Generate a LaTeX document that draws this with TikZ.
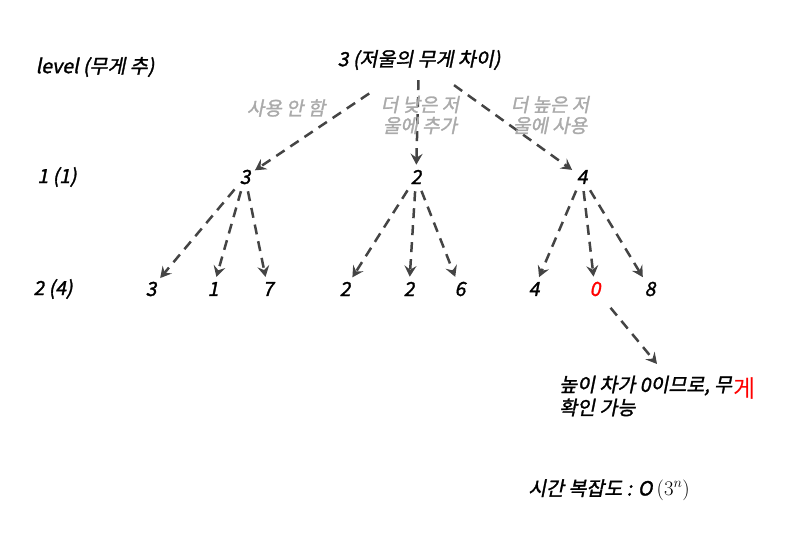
\documentclass[tikz,border=0pt]{standalone}
\usepackage{fontspec}
\setmainfont{Noto Sans CJK KR}[FakeSlant=0.2,FakeBold=1.5]
\newfontfamily\uprightkr{Noto Sans CJK KR}
\usetikzlibrary{arrows.meta}
\definecolor{diagcolor0001}{RGB}{68,68,68}
\definecolor{diagcolor0002}{RGB}{170,170,170}
\definecolor{diagcolor0003}{RGB}{255,0,0}

\begin{document}
\begin{tikzpicture}[yscale=-1
,tstyle0/.style={color=black,inner sep=1pt,font=\fontsize{19.5pt}{23pt}\selectfont}
,tstyle1/.style={color=diagcolor0002,inner sep=1pt,align=center,font=\fontsize{19pt}{21pt}\selectfont}
,tstyle2/.style={tstyle0,align=left,anchor=west}
,estyle0/.style={color=diagcolor0001,line width=2.5pt,dash pattern=on 10pt off 7pt,-{Stealth[length=11pt,width=12pt,inset=4pt]},shorten <=6pt,shorten >=4pt}
]
\useasboundingbox (0pt,0pt) rectangle (796pt,553pt);
% level column
\node (lvl0) at (95pt,67pt)[tstyle0]{level (무게 추)};
\node (lvl1) at (57pt,177pt)[tstyle0]{1 (1)};
\node (lvl2) at (53pt,289pt)[tstyle0]{2 (4)};
% root and first level
\node (root) at (419pt,60pt)[tstyle0]{3 (저울의 무게 차이)};
\node (na) at (245pt,177pt)[tstyle0]{3};
\node (nb) at (416pt,177pt)[tstyle0]{2};
\node (nc) at (582pt,177pt)[tstyle0]{4};
% second level
\node (naa) at (151pt,289pt)[tstyle0]{3};
\node (nab) at (213pt,289pt)[tstyle0]{1};
\node (nac) at (268pt,289pt)[tstyle0]{7};
\node (nba) at (345pt,289pt)[tstyle0]{2};
\node (nbb) at (409pt,289pt)[tstyle0]{2};
\node (nbc) at (460pt,289pt)[tstyle0]{6};
\node (nca) at (534pt,289pt)[tstyle0]{4};
\node (ncb) at (595pt,289pt)[tstyle0,color=diagcolor0003]{0};
\node (ncc) at (650pt,289pt)[tstyle0]{8};
% edges
\draw[estyle0,shorten <=40pt] (root) -- (na);
\draw[estyle0,shorten <=9pt] (root) -- (nb);
\draw[estyle0,shorten <=24pt] (root) -- (nc);
\foreach \p/\c in {na/naa,na/nab,na/nac,nb/nba,nb/nbb,nb/nbc,nc/nca,nc/ncb,nc/ncc}
  \draw[estyle0] (\p) -- (\c);
\coordinate (notetip) at (657pt,364pt);
\draw[estyle0,shorten >=0pt,shorten <=14pt] (ncb) -- (notetip);
% edge labels
\node (lbla) at (286pt,108pt)[tstyle1]{사용 안 함};
\node (lblb) at (420pt,115pt)[tstyle1]{더 낮은 저\\울에 추가};
\node (lblc) at (550pt,115pt)[tstyle1]{더 높은 저\\울에 사용};
% note
\node (note) at (558pt,396pt)[tstyle2]{높이 차가 0이므로, 무\\확인 가능};
\node (noteg) at (745pt,389pt)[inner sep=0.5pt,text=diagcolor0003,font=\uprightkr\fontsize{24pt}{24pt}\selectfont]{게};
\node (cplx) at (527pt,490pt)[tstyle0,anchor=west]{시간 복잡도 : O {\normalfont\fontspec{Latin Modern Roman}\fontsize{19.5pt}{23pt}\selectfont$(3^n)$}};
\end{tikzpicture}
\end{document}
